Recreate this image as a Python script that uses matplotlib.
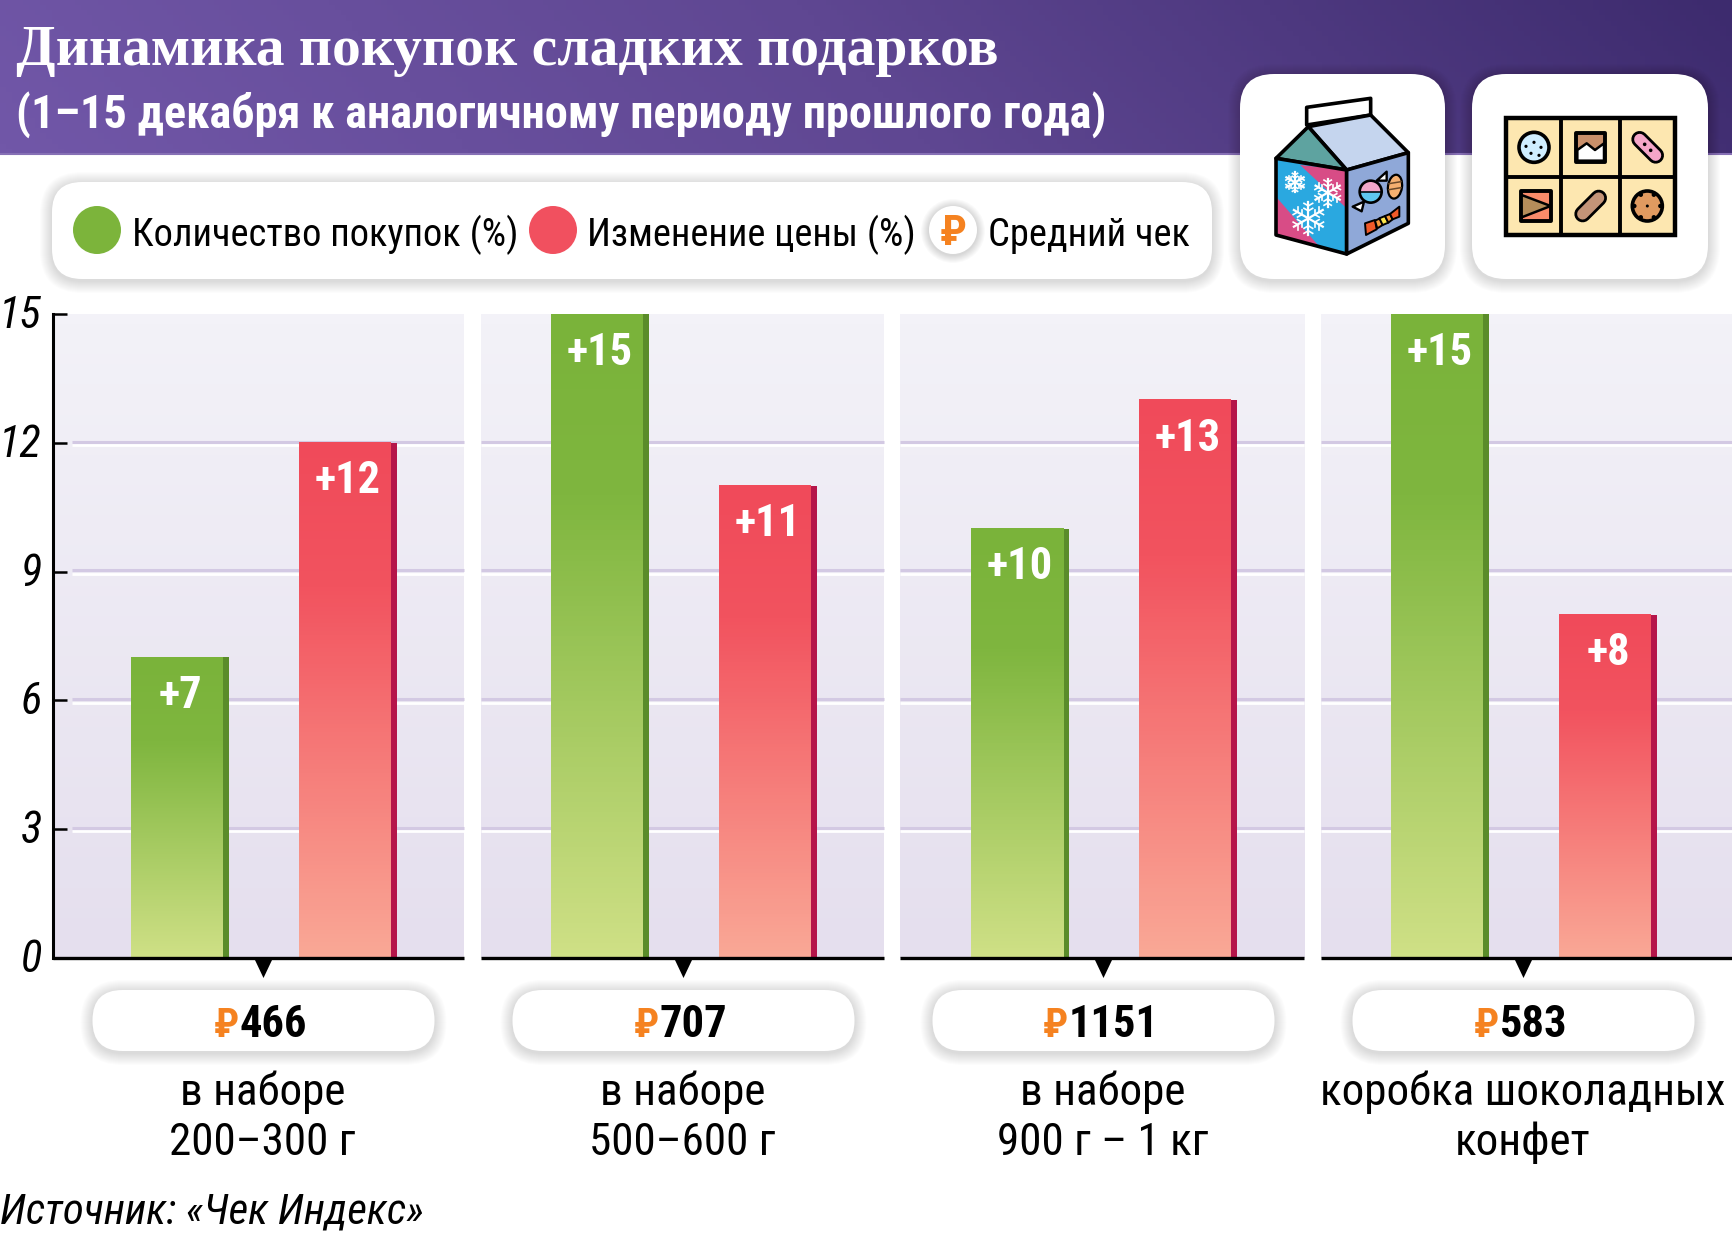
import numpy as np
import matplotlib
matplotlib.use('Agg')
from matplotlib import pyplot as plt
from matplotlib.colors import LinearSegmentedColormap as LSC
from matplotlib.patches import FancyBboxPatch, Circle, Polygon, Rectangle, Wedge, Ellipse
from matplotlib.transforms import ScaledTranslation

W, H = 1732, 1235

# data
categories = [['в наборе', '200–300 г'], ['в наборе', '500–600 г'],
              ['в наборе', '900 г – 1 кг'], ['коробка шоколадных', 'конфет']]
purchases = [7, 15, 10, 15]
price_change = [12, 11, 13, 8]
avg_check = [466, 707, 1151, 583]
y_ticks = [0, 3, 6, 9, 12, 15]
title = 'Динамика покупок сладких подарков'
subtitle = '(1–15 декабря к аналогичному периоду прошлого года)'
source = 'Источник: «Чек Индекс»'
legend_labels = ['Количество покупок (%)', 'Изменение цены (%)', 'Средний чек']

NARROW = ['Roboto Condensed', 'DejaVu Sans']
RUB = ['Roboto Condensed', 'DejaVu Sans']

GREEN, RED, ORANGE = '#7cb43b', '#f1505f', '#f58220'
green_cm = LSC.from_list('g', [(0, '#cfe086'), (.72, '#7fb63f'), (1, '#7ab33a')])
red_cm = LSC.from_list('r', [(0, '#faa896'), (.72, '#f2535f'), (1, '#f04a5a')])
bg_cm = LSC.from_list('bg', ['#e5dfee', '#f3f2f8'])
head_cm = LSC.from_list('h', ['#7157a8', '#5f4792', '#3d2b6e'])

fig = plt.figure(figsize=(W / 100, H / 100), dpi=100, facecolor='white')
bg = fig.add_axes([0, 0, 1, 1])
bg.set_xlim(0, W)
bg.set_ylim(H, 0)
bg.axis('off')


def soft_box(a, x0, y0, x1, y1, r, z=2):
    for k in range(12, 0, -1):
        a.add_patch(FancyBboxPatch((x0 - k, y0 - k + 2), x1 - x0 + 2 * k, y1 - y0 + 2 * k,
                                   boxstyle='round,pad=0,rounding_size=%f' % (r + k),
                                   fc='black', ec='none', alpha=.011, zorder=z))
    a.add_patch(FancyBboxPatch((x0, y0), x1 - x0, y1 - y0,
                               boxstyle='round,pad=0,rounding_size=%f' % r,
                               fc='white', ec='none', zorder=z + .1))


# header
xx, yy = np.meshgrid(np.linspace(0, 1, 300), np.linspace(0, 1, 30))
bg.imshow(xx + .08 * (1 - yy), extent=[0, W, 154, 0], cmap=head_cm, vmin=0, vmax=1.08,
          aspect='auto', zorder=1)
bg.plot([0, W], [154, 154], color='#8670b5', lw=1.5, zorder=1.1)
bg.set_xlim(0, W)
bg.set_ylim(H, 0)
bg.text(16, 65, title, color='white', fontsize=41.5, family='Liberation Serif', weight='bold', zorder=3)
bg.text(16, 128, subtitle, color='white', fontsize=33.4, family=NARROW, weight='bold', zorder=3)

# legend
soft_box(bg, 52, 182, 1212, 279, 30)
bg.add_patch(Circle((97, 230), 24, fc=GREEN, ec='none', zorder=3))
bg.add_patch(Circle((553, 230), 24, fc=RED, ec='none', zorder=3))
for k in range(8, 0, -1):
    bg.add_patch(Circle((953, 231), 24 + k, fc='black', ec='none', alpha=.02, zorder=3))
bg.add_patch(Circle((953, 230), 24, fc='white', ec='none', zorder=3.1))
bg.text(953, 245, '₽', color=ORANGE, fontsize=31, weight='bold', ha='center', family=RUB, zorder=3.2)
for lx, lab in zip([132, 587, 988], legend_labels):
    bg.text(lx, 246, lab, fontsize=27.7, family=NARROW, color='black', zorder=3)

# icon cards
soft_box(bg, 1240, 74, 1445, 279, 34)
soft_box(bg, 1472, 74, 1708, 279, 34)


def zc(pts):
    return [(1240 + px / 3, 90 + py / 3) for px, py in pts]


def zb(pts):
    return [(1480 + px / 3, 100 + py / 3) for px, py in pts]


def poly(pts, fc, lw=2.6, ec='black', z=4):
    bg.add_patch(Polygon(pts, closed=True, fc=fc, ec=ec, lw=lw, joinstyle='round', zorder=z))


# milk carton
poly(zc([(200, 52), (392, 25), (392, 75), (200, 105)]), 'white')
poly(zc([(205, 110), (392, 75), (505, 188), (320, 240)]), '#c5d5ee')
poly(zc([(205, 110), (320, 240), (108, 205)]), '#5ea3a0')
poly(zc([(108, 205), (320, 240), (320, 492), (108, 435)]), '#2aa8e0', lw=0)
poly(zc([(180, 225), (320, 355), (320, 240)]), '#d84c86', lw=0)
poly(zc([(108, 320), (238, 470), (108, 435)]), '#d84c86', lw=0)
poly(zc([(108, 205), (320, 240), (320, 492), (108, 435)]), 'none')
poly(zc([(320, 240), (505, 188), (505, 400), (320, 492)]), '#8fa8d8')


def flake(cx, cy, r):
    (x, y), = zc([(cx, cy)])
    r = r / 3
    for a in np.deg2rad(np.arange(0, 360, 60) + 30):
        dx, dy = np.cos(a), np.sin(a)
        bg.plot([x, x + r * dx], [y, y + r * dy], color='white', lw=1.6, zorder=4.1)
        for f in (.45, .75):
            for s in (-1, 1):
                b = a + s * np.pi / 3
                bg.plot([x + f * r * dx, x + f * r * dx + .3 * r * np.cos(b)],
                        [y + f * r * dy, y + f * r * dy + .3 * r * np.sin(b)],
                        color='white', lw=1.2, zorder=4.1)


flake(165, 277, 30)
flake(263, 308, 42)
flake(205, 385, 50)

# candies on the carton
poly(zc([(410, 272), (440, 245), (440, 272)]), 'white', lw=1.7)
poly(zc([(372, 335), (338, 350), (365, 364)]), 'white', lw=1.7)
(cx, cy), = zc([(392, 305)])
bg.add_patch(Wedge((cx, cy), 11, 180, 360, fc='#f2a6c8', ec='none', zorder=4.2))
bg.add_patch(Wedge((cx, cy), 11, 0, 180, fc='#5fc8f0', ec='none', zorder=4.2))
bg.add_patch(Circle((cx, cy), 11, fc='none', ec='black', lw=1.9, zorder=4.3))
bg.plot([cx - 11, cx + 11], [cy, cy], color='black', lw=1.1, zorder=4.3)
(cx, cy), = zc([(465, 290)])
bg.add_patch(Ellipse((cx, cy), 14, 24, angle=8, fc='#f5b070', ec='black', lw=1.6, zorder=4.2))
bg.plot([cx - 6, cx + 6], [cy - 3, cy - 5], color='#6b4a2a', lw=1.1, zorder=4.3)
bg.plot([cx - 6, cx + 6], [cy + 3, cy + 1], color='#6b4a2a', lw=1.1, zorder=4.3)
poly(zc([(375, 400), (405, 390), (410, 418), (378, 435)]), '#f15a29', lw=1.4)
poly(zc([(405, 392), (420, 385), (428, 405), (412, 415)]), '#f59a3c', lw=1.4)
poly(zc([(418, 385), (435, 378), (445, 398), (428, 405)]), '#fbe64b', lw=1.4)
poly(zc([(435, 378), (450, 372), (458, 388), (445, 398)]), '#f59a3c', lw=1.4)
poly(zc([(450, 372), (478, 350), (478, 380), (458, 388)]), '#f15a29', lw=1.4)

# candy box
bg.add_patch(Rectangle((1506, 118), 169, 117, fc='#fde7b0', ec='black', lw=3.2, zorder=4))
for vx in (243, 420):
    bg.plot([1480 + vx / 3] * 2, [116, 237], color='black', lw=2.8, zorder=4.1, solid_capstyle='butt')
bg.plot([1504, 1677], [176.5, 176.5], color='black', lw=2.8, zorder=4.1, solid_capstyle='butt')

(cx, cy), = zb([(162, 142)])
bg.add_patch(Circle((cx, cy), 15, fc='#cfeeff', ec='black', lw=2.6, zorder=4.2))
for ox, oy in [(0, -5), (7, 0), (-3, 6), (-8, -1), (5, 8)]:
    bg.add_patch(Circle((cx + ox, cy + oy), 1.6, fc='black', ec='none', zorder=4.3))
poly(zb([(288, 98), (376, 98), (376, 186), (288, 186)]), '#c98f6a', lw=2.8, z=4.2)
poly(zb([(292, 150), (320, 130), (345, 150), (372, 130), (372, 182), (292, 182)]), 'white', lw=1.8, z=4.3)
(cx, cy), = zb([(503, 142)])
bg.plot([cx - 8, cx + 8], [cy - 8, cy + 8], color='black', lw=12, solid_capstyle='round', zorder=4.2)
bg.plot([cx - 8, cx + 8], [cy - 8, cy + 8], color='#f4a6c8', lw=8, solid_capstyle='round', zorder=4.3)
bg.add_patch(Circle((cx - 3, cy - 3), 1.8, fc='black', ec='none', zorder=4.4))
bg.add_patch(Circle((cx + 3, cy + 3), 1.8, fc='black', ec='none', zorder=4.4))
poly(zb([(122, 273), (212, 273), (212, 363), (122, 363)]), '#f98b6a', lw=2.8, z=4.2)
poly(zb([(125, 285), (212, 318), (125, 352)]), '#b58d5a', lw=1.8, z=4.3)
(cx, cy), = zb([(332, 318)])
bg.plot([cx - 8, cx + 8], [cy + 8, cy - 8], color='black', lw=12, solid_capstyle='round', zorder=4.2)
bg.plot([cx - 8, cx + 8], [cy + 8, cy - 8], color='#c49478', lw=8, solid_capstyle='round', zorder=4.3)
(cx, cy), = zb([(502, 318)])
bg.add_patch(Circle((cx, cy), 15, fc='#e09a60', ec='black', lw=2.6, zorder=4.2))
bg.add_patch(Circle((cx, cy), 1.5, fc='black', ec='none', zorder=4.3))
for a in np.deg2rad(np.arange(0, 360, 60)):
    bg.add_patch(Circle((cx + 13 * np.cos(a), cy + 13 * np.sin(a)), 2.2, fc='black', ec='none', zorder=4.3))

# chart axes, x in category units
LEFT, RIGHT, TOP, BOT = 53, 1732, 314, 958
CAT0, STEP = 264, 420


def px2x(p):
    return (p - CAT0) / STEP


ax = fig.add_axes([LEFT / W, 1 - BOT / H, (RIGHT - LEFT) / W, (BOT - TOP) / H])
ax.patch.set_visible(False)
panels = [(53, 464), (481, 884), (900, 1304), (1321, 1732)]
x = np.arange(len(categories))
OFF, BW, STRIP = .2, 98 / STEP, 6 / STEP

for p0, p1 in panels:
    a, b = px2x(p0), px2x(p1)
    ax.imshow(np.linspace(1, 0, 64)[:, None], extent=[a, b, 0, 15], cmap=bg_cm, vmin=0, vmax=1,
              aspect='auto', zorder=1)
    gx0 = max(a, px2x(72))
    for t in y_ticks[1:-1]:
        ax.plot([gx0, b], [t - .05, t - .05], color='white', lw=2, zorder=1.1, solid_capstyle='butt')
        ax.plot([gx0, b], [t + .03, t + .03], color='#d3c9e3', lw=2.2, zorder=1.2, solid_capstyle='butt')
    ax.plot([a, b], [0, 0], color='black', lw=2.4, zorder=6, clip_on=False, solid_capstyle='butt')

for xs, vals, cm, dark in [(x - OFF, purchases, green_cm, '#5a8c2a'),
                           (x + OFF, price_change, red_cm, '#b5154a')]:
    ax.bar(xs, vals, width=BW, color=dark, zorder=2)
    for xc, v in zip(xs, vals):
        ax.imshow(np.linspace(1, 0, 128)[:, None], extent=[xc - BW / 2, xc + BW / 2 - STRIP, 0, v],
                  cmap=cm, vmin=0, vmax=1, aspect='auto', zorder=3)
        ax.text(xc, v - .9, '+%d' % v, color='white', fontsize=32, weight='bold',
                family=NARROW, ha='center', va='center', zorder=5)

ax.set_xlim(px2x(LEFT), px2x(RIGHT))
ax.set_ylim(0, 15)
ax.set_xticks([])
ax.set_yticks(y_ticks)
ax.set_yticklabels(y_ticks, fontsize=32, style='italic', family=NARROW)
ax.tick_params(axis='y', direction='in', length=10, width=1.8, pad=8)
ax.yaxis.get_major_ticks()[0].tick1line.set_visible(False)
for lab in ax.get_yticklabels():
    lab.set_transform(lab.get_transform() + ScaledTranslation(0, 2 / 72, fig.dpi_scale_trans))
for s in ('top', 'right', 'bottom'):
    ax.spines[s].set_visible(False)
ax.spines['left'].set_linewidth(2.2)

# price pills and category text
fig.canvas.draw()
rend = fig.canvas.get_renderer()
for i, (cat, chk) in enumerate(zip(categories, avg_check)):
    c = CAT0 + STEP * i - .5
    bg.add_patch(Polygon([(c - 9, 959), (c + 9, 959), (c, 978)], fc='black', ec='none', zorder=2))
    soft_box(bg, c - 171, 990, c + 171, 1051, 30)
    num = bg.text(c + 10, 1037, str(chk), fontsize=32, weight='bold', family=NARROW, ha='center', zorder=3)
    w = num.get_window_extent(rend).width
    bg.text(c + 10 - w / 2 - 1, 1037, '₽', fontsize=29, weight='bold', color=ORANGE, ha='right',
            family=RUB, zorder=3)
    bg.text(c - 1, 1105, cat[0], fontsize=32.5, family=NARROW, ha='center', zorder=3)
    bg.text(c - 1, 1155, cat[1], fontsize=32.5, family=NARROW, ha='center', zorder=3)

bg.text(0, 1223, source, fontsize=31, style='italic', family=NARROW, zorder=3)

fig.savefig('out.png', dpi=100)
